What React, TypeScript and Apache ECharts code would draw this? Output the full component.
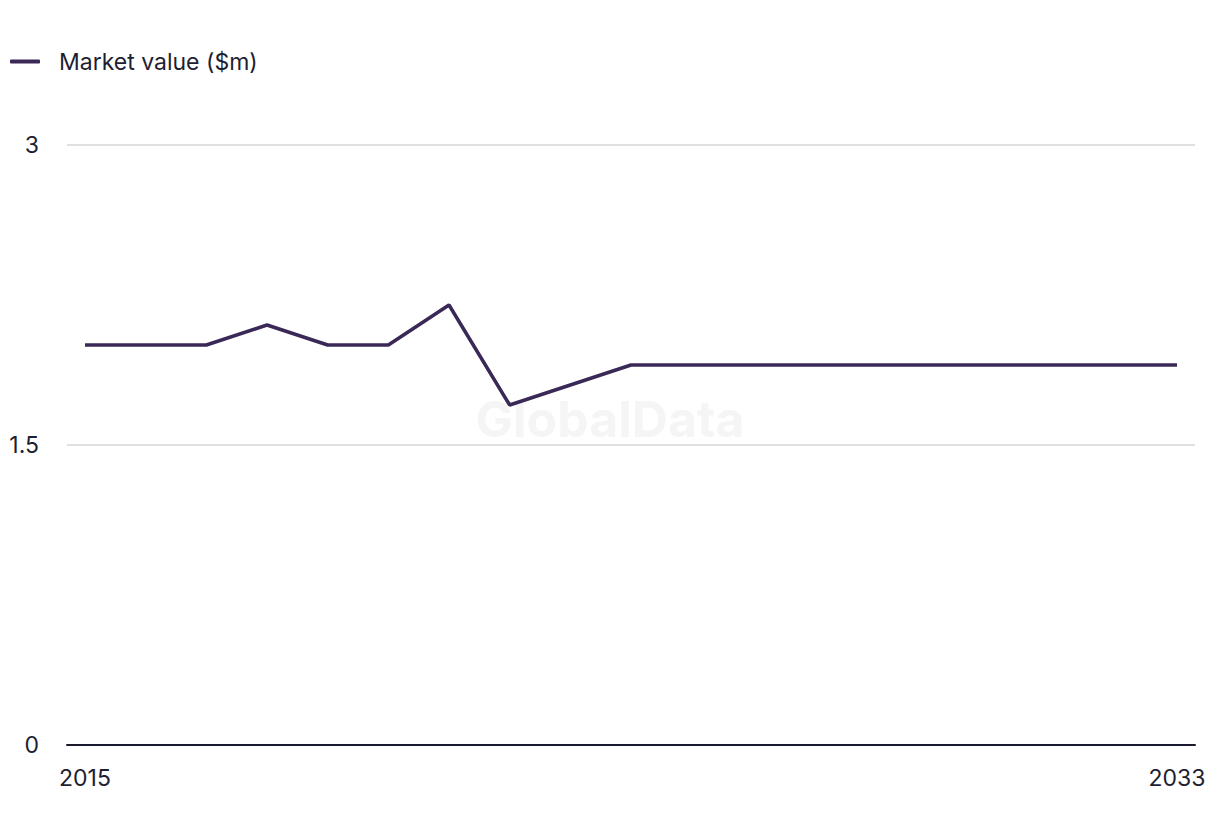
import React, { useEffect, useRef } from "react";
import * as echarts from "echarts";

const years = [2015, 2016, 2017, 2018, 2019, 2020, 2021, 2022, 2023, 2024, 2025, 2026, 2027, 2028, 2029, 2030, 2031, 2032, 2033];
const marketValue = [2.0, 2.0, 2.0, 2.1, 2.0, 2.0, 2.2, 1.7, 1.8, 1.9, 1.9, 1.9, 1.9, 1.9, 1.9, 1.9, 1.9, 1.9, 1.9];
const xTickLabels = [2015, 2033];
const yTicks = [0, 1.5, 3];
const seriesName = "Market value ($m)";

export default function App() {
  const ref = useRef<HTMLDivElement>(null);
  useEffect(() => {
    if (!ref.current) return;
    const chart = echarts.init(ref.current, null, { renderer: "svg" });
    const font = "Inter, 'Liberation Sans', sans-serif";
    chart.setOption({
      animation: false,
      textStyle: { fontFamily: font },
      graphic: [
        {
          type: "text",
          left: "center",
          top: 394,
          style: { text: "GlobalData", fontSize: 50, fontWeight: "bold", fill: "#f5f5f5", fontFamily: font },
          z: 0,
        },
      ],
      legend: {
        left: 10,
        top: 50,
        padding: 0,
        icon: "roundRect",
        itemWidth: 30,
        itemHeight: 4,
        textStyle: { fontSize: 23, color: "#1e1e32", padding: [0, 0, 0, 14], fontFamily: font },
        data: [seriesName],
      },
      grid: { left: 67, right: 25, top: 145, bottom: 91, containLabel: false },
      xAxis: {
        type: "value",
        min: 2014.703,
        max: 2033.297,
        splitLine: { show: false },
        axisTick: { show: false },
        axisLine: { show: true, lineStyle: { color: "#1a1a2e", width: 2 } },
        axisLabel: {
          customValues: xTickLabels,
          formatter: (v: number) => String(v),
          fontSize: 23,
          color: "#1e1e32",
          margin: 21,
          fontFamily: font,
        },
      },
      yAxis: {
        type: "value",
        min: 0,
        max: 3,
        interval: 1.5,
        axisLine: { show: false },
        axisTick: { show: false },
        splitLine: { lineStyle: { color: "#d6d6d6", width: 1.5 } },
        axisLabel: {
          customValues: yTicks,
          fontSize: 23,
          color: "#1e1e32",
          margin: 28,
          fontFamily: font,
        },
      },
      series: [
        {
          name: seriesName,
          type: "line",
          data: years.map((y, i) => [y, marketValue[i]]),
          showSymbol: false,
          symbol: "none",
          lineStyle: { color: "#3a2856", width: 3.5 },
          itemStyle: { color: "#3a2856" },
          z: 3,
        },
      ],
    });
    return () => chart.dispose();
  }, []);
  return <div ref={ref} style={{ position: "absolute", left: 0, top: 0, width: 1220, height: 836 }} />;
}
